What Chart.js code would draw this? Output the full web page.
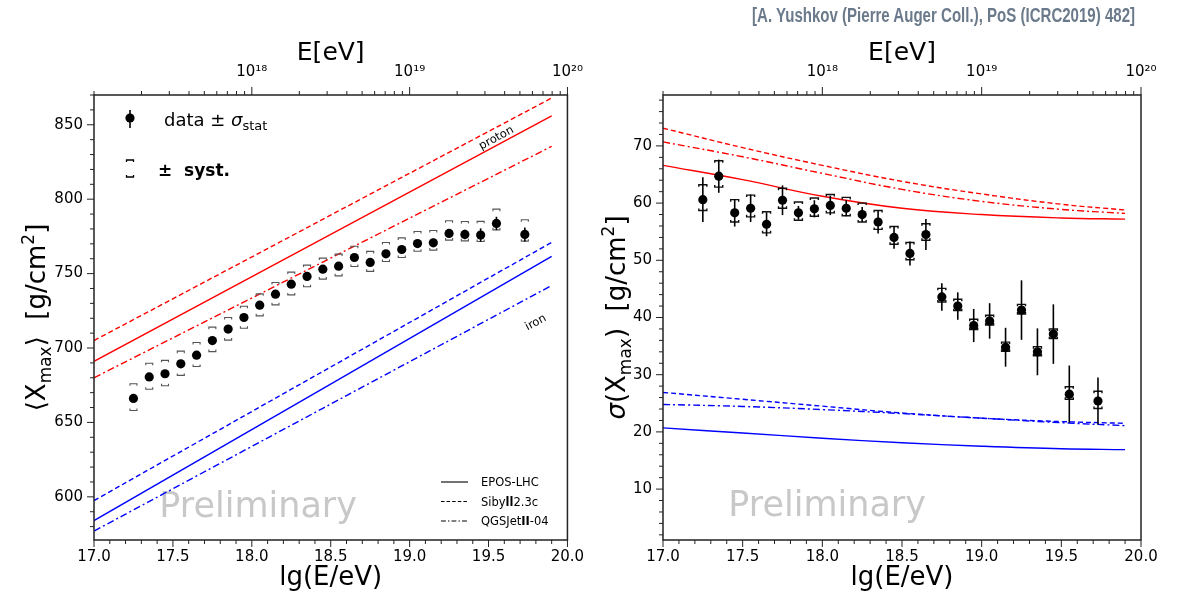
<!DOCTYPE html>
<html>
<head>
<meta charset="utf-8">
<script src="https://cdn.jsdelivr.net/npm/chart.js@4.4.1/dist/chart.umd.min.js"></script>
<style>
  body { margin: 0; background: #fff; width: 1178px; height: 599px; position: relative; overflow: hidden; }
  #leftChart { position: absolute; left: 0; top: 0; }
  #rightChart { position: absolute; left: 589px; top: 0; }
  #ref { position: absolute; right: 43px; top: 4px; font: bold 20px 'Liberation Sans', sans-serif; color: #6b7a8b; white-space: nowrap; transform-origin: right top; }
</style>
</head>
<body>
<canvas id="leftChart" width="589" height="599"></canvas>
<canvas id="rightChart" width="589" height="599"></canvas>
<div id="ref">[A. Yushkov (Pierre Auger Coll.), PoS (ICRC2019) 482]</div>
<script>
const FONT = "'DejaVu Sans', sans-serif";
Chart.defaults.font.family = FONT;
Chart.defaults.color = '#000';

// squeeze the citation line to the narrow look of the original
const refEl = document.getElementById('ref');
refEl.style.transform = 'scaleX(' + (383 / refEl.offsetWidth) + ')';

// energy bins of the measured points, lg(E/eV)
const lgE = [17.25, 17.35, 17.45, 17.55, 17.65, 17.75, 17.85, 17.95, 18.05, 18.15, 18.25, 18.35,
             18.45, 18.55, 18.65, 18.75, 18.85, 18.95, 19.05, 19.15, 19.25, 19.35, 19.45, 19.55, 19.73];

// <Xmax> data, g/cm2
const xmaxMean = [666.1, 680.6, 682.7, 689.4, 695.2, 705.0, 712.7, 720.5, 728.8, 736.2, 742.9, 748.1,
                  753.0, 755.0, 760.8, 757.5, 763.3, 766.2, 770.2, 770.7, 777.0, 776.3, 775.9, 783.7, 776.3];
const xmaxStat = [1.2, 1.2, 1.2, 1.2, 1.2, 1.3, 1.3, 1.3, 1.3, 1.4, 1.5, 1.6,
                  1.7, 1.8, 1.9, 2.0, 2.1, 2.3, 2.5, 2.8, 3.0, 3.2, 4.5, 4.5, 4.7];
const xmaxSysUp = [9.9, 9.2, 9.0, 8.5, 8.5, 9.0, 7.8, 7.6, 7.6, 7.8, 8.1, 7.6,
                   7.4, 8.1, 7.6, 7.4, 7.6, 7.8, 8.1, 8.3, 8.5, 8.7, 9.2, 9.6, 9.9];
const xmaxSysLow = [8.1, 8.3, 8.1, 7.8, 7.6, 7.4, 7.4, 7.2, 7.2, 7.2, 7.2, 6.9,
                    6.7, 6.5, 6.0, 6.0, 5.2, 5.4, 5.2, 4.9, 4.5, 4.3, 4.3, 4.3, 4.5];

// sigma(Xmax) data, g/cm2
const sigmaVals = [60.6, 64.7, 58.3, 59.1, 56.3, 60.5, 58.3, 59.0, 59.6, 59.1, 58.0, 56.7,
                   54.0, 51.2, 54.5, 43.6, 42.0, 38.6, 39.4, 34.8, 41.3, 34.0, 37.1, 26.6, 25.4];
const sigmaStat = [3.9, 2.9, 2.4, 2.4, 2.1, 2.6, 1.2, 1.5, 1.7, 1.4, 1.3, 2.0,
                   2.0, 2.1, 2.7, 2.4, 2.4, 2.9, 3.1, 3.4, 5.2, 4.1, 5.2, 5.0, 4.1];
const sigmaSysUp = [2.6, 2.7, 2.3, 2.3, 2.2, 2.1, 1.9, 1.9, 1.9, 1.9, 2.0, 2.0,
                    1.9, 1.9, 1.9, 1.5, 1.2, 1.1, 1.0, 0.9, 1.0, 0.9, 0.9, 1.3, 1.7];
const sigmaSysLow = [1.9, 1.9, 1.6, 1.5, 1.5, 1.4, 1.3, 1.3, 1.3, 1.3, 1.3, 1.3,
                     1.2, 1.1, 1.0, 0.9, 0.8, 0.7, 0.7, 0.7, 0.7, 0.7, 0.8, 0.9, 1.3];

// model predictions for <Xmax>
const modelLgE = [17.0, 19.9];
const xmaxProtonEpos = [691, 856];
const xmaxProtonSibyll = [705, 868];
const xmaxProtonQgs = [680, 835.5];
const xmaxIronEpos = [584, 761.5];
const xmaxIronSibyll = [597.5, 771];
const xmaxIronQgs = [577, 742];

// model predictions for sigma(Xmax)
const sigmaModelLgE = [17.0, 17.5, 18.0, 18.5, 19.0, 19.5, 19.9];
const sigmaProtonEpos = [66.6, 64.1, 61.2, 59.1, 58.0, 57.4, 57.2];
const sigmaProtonSibyll = [73.1, 69.7, 66.6, 63.8, 61.6, 59.8, 58.8];
const sigmaProtonQgs = [70.7, 68.1, 65.2, 62.4, 60.3, 58.9, 58.2];
const sigmaIronEpos = [20.7, 19.8, 18.9, 18.1, 17.5, 17.05, 16.9];
const sigmaIronSibyll = [26.9, 25.7, 24.5, 23.3, 22.4, 21.8, 21.5];
const sigmaIronQgs = [24.8, 24.45, 23.9, 23.2, 22.4, 21.6, 21.1];

// top axis labels (energy in eV)
const topMajor = [18, 19, 20];
const topLabels = ['10\u00b9\u2078', '10\u00b9\u2079', '10\u00b2\u2070'];

const RED = '#ff0000';
const BLUE = '#0000ff';
const DASH = [5, 3];
const DASHDOT = [7, 3, 2, 3];

function pts(xs, ys) {
    return xs.map((x, i) => ({ x: x, y: ys[i] }));
}

function modelLine(xs, ys, color, dash) {
    return {
        data: pts(xs, ys), showLine: true, pointRadius: 0, borderColor: color,
        borderWidth: 1.4, borderDash: dash, fill: false, tension: 0.4
    };
}

function line(ctx, x1, y1, x2, y2) {
    ctx.beginPath();
    ctx.moveTo(x1, y1);
    ctx.lineTo(x2, y2);
    ctx.stroke();
}

// draw text made of several pieces (sub/superscripts, mixed fonts)
function drawRich(ctx, x, y, parts, center) {
    let total = 0;
    parts.forEach(p => { ctx.font = p.font; total += ctx.measureText(p.text).width; });
    let cx = center ? x - total / 2 : x;
    ctx.textBaseline = 'alphabetic';
    ctx.textAlign = 'left';
    parts.forEach(p => {
        ctx.font = p.font;
        ctx.fillText(p.text, cx, y + (p.dy || 0));
        cx += ctx.measureText(p.text).width;
    });
}

function drawBracket(ctx, px, yt, yb, w) {
    ctx.beginPath();
    ctx.moveTo(px - w, yt + 2); ctx.lineTo(px - w, yt); ctx.lineTo(px + w, yt); ctx.lineTo(px + w, yt + 2);
    ctx.moveTo(px - w, yb - 2); ctx.lineTo(px - w, yb); ctx.lineTo(px + w, yb); ctx.lineTo(px + w, yb - 2);
    ctx.stroke();
}

function makeDecor(cfg) {
    return {
        id: 'decor',
        beforeDatasetsDraw(chart) {
            const ctx = chart.ctx, xs = chart.scales.x, ys = chart.scales.y;
            // watermark
            ctx.save();
            ctx.fillStyle = '#c8c8c8';
            ctx.font = '35px ' + FONT;
            ctx.textAlign = 'center';
            ctx.textBaseline = 'middle';
            ctx.fillText('Preliminary', xs.getPixelForValue(cfg.wm[0]), ys.getPixelForValue(cfg.wm[1]));
            ctx.restore();
        },
        afterDatasetsDraw(chart) {
            const ctx = chart.ctx, xs = chart.scales.x, ys = chart.scales.y;
            ctx.save();
            for (let i = 0; i < lgE.length; i++) {
                const px = xs.getPixelForValue(lgE[i]);
                const v = cfg.vals[i];
                ctx.strokeStyle = cfg.sysColor;
                ctx.lineWidth = cfg.sysWidth;
                drawBracket(ctx, px, ys.getPixelForValue(v + cfg.sysUp[i]), ys.getPixelForValue(v - cfg.sysLow[i]), cfg.bw);
                ctx.strokeStyle = '#000';
                ctx.lineWidth = 1.6;
                line(ctx, px, ys.getPixelForValue(v - cfg.stat[i]), px, ys.getPixelForValue(v + cfg.stat[i]));
                ctx.fillStyle = '#000';
                ctx.beginPath();
                ctx.arc(px, ys.getPixelForValue(v), 4.6, 0, Math.PI * 2);
                ctx.fill();
            }
            ctx.restore();
        },
        afterDraw(chart) {
            const ctx = chart.ctx, a = chart.chartArea;
            ctx.save();
            // frame
            ctx.strokeStyle = '#222';
            ctx.lineWidth = 1.5;
            ctx.strokeRect(a.left, a.top, a.right - a.left, a.bottom - a.top);
            // ticks
            ctx.lineWidth = 1;
            const xb = chart.scales.x, xt = chart.scales.xTop, yl = chart.scales.y;
            xb.ticks.forEach(t => {
                const p = xb.getPixelForValue(t.value);
                line(ctx, p, a.bottom, p, a.bottom + (t.label ? 7 : 4));
            });
            xt.ticks.forEach(t => {
                const p = xt.getPixelForValue(t.value);
                line(ctx, p, a.top, p, a.top - (t.label ? 8 : 4));
            });
            yl.ticks.forEach(t => {
                const p = yl.getPixelForValue(t.value);
                line(ctx, a.left, p, a.left - (t.label ? 7 : 4), p);
            });
            // y-axis title
            ctx.fillStyle = '#000';
            ctx.translate(cfg.titleX, (a.top + a.bottom) / 2);
            ctx.rotate(-Math.PI / 2);
            drawRich(ctx, 0, 9, cfg.title, true);
            ctx.restore();
            if (cfg.extra) cfg.extra(chart);
        }
    };
}

function baseScales(yMin, yMax, yStep, yMajor, yWidth) {
    return {
        x: {
            type: 'linear', position: 'bottom', min: 17, max: 20,
            afterBuildTicks: s => { const t = []; for (let i = 0; i <= 30; i++) t.push({ value: 17 + i / 10 }); s.ticks = t; },
            afterFit: s => { s.height = 59; },
            ticks: {
                autoSkip: false, maxRotation: 0, padding: 1, font: { size: 15 }, color: '#000',
                callback: v => (Math.abs(v * 2 - Math.round(v * 2)) < 1e-6 ? v.toFixed(1) : '')
            },
            grid: { drawOnChartArea: false, tickLength: 7, tickColor: 'rgba(0,0,0,0)' },
            border: { display: false },
            title: { display: true, text: 'lg(E/eV)', font: { size: 26 }, color: '#000', padding: { top: 0, bottom: 5 } }
        },
        xTop: {
            type: 'linear', position: 'top', axis: 'x', min: 17, max: 20,
            afterBuildTicks: s => {
                const t = [];
                for (let n = 17; n < 20; n++) for (let k = 1; k < 10; k++) t.push({ value: n + Math.log10(k) });
                t.push({ value: 20 });
                s.ticks = t;
            },
            afterFit: s => { s.height = 95; },
            ticks: {
                autoSkip: false, maxRotation: 0, padding: 6, font: { size: 15 }, color: '#000',
                callback: v => { const i = topMajor.findIndex(m => Math.abs(m - v) < 1e-6); return i >= 0 ? topLabels[i] : ''; }
            },
            grid: { drawOnChartArea: false, tickLength: 8, tickColor: 'rgba(0,0,0,0)' },
            border: { display: false },
            title: { display: true, text: 'E[eV]', font: { size: 25 }, color: '#000', padding: { top: 38, bottom: 0 } }
        },
        y: {
            type: 'linear', min: yMin, max: yMax,
            afterBuildTicks: s => {
                const t = [];
                for (let v = Math.ceil(yMin / yStep) * yStep; v <= yMax; v += yStep) t.push({ value: v });
                s.ticks = t;
            },
            afterFit: s => { s.width = yWidth; },
            ticks: {
                autoSkip: false, padding: 4, font: { size: 15 }, color: '#000',
                callback: v => (v % yMajor === 0 ? String(v) : '')
            },
            grid: { drawOnChartArea: false, tickLength: 7, tickColor: 'rgba(0,0,0,0)' },
            border: { display: false }
        }
    };
}

const sub = '13px ' + FONT;
const big = '26px ' + FONT;

// left: <Xmax>
new Chart(document.getElementById('leftChart'), {
    type: 'scatter',
    data: {
        datasets: [
            modelLine(modelLgE, xmaxProtonEpos, RED, []),
            modelLine(modelLgE, xmaxProtonSibyll, RED, DASH),
            modelLine(modelLgE, xmaxProtonQgs, RED, DASHDOT),
            modelLine(modelLgE, xmaxIronEpos, BLUE, []),
            modelLine(modelLgE, xmaxIronSibyll, BLUE, DASH),
            modelLine(modelLgE, xmaxIronQgs, BLUE, DASHDOT)
        ]
    },
    options: {
        responsive: false, animation: false, devicePixelRatio: 1,
        layout: { padding: { left: 0, right: 20, top: 0, bottom: 0 } },
        plugins: { legend: { display: false }, tooltip: { enabled: false } },
        scales: baseScales(571, 870, 10, 50, 94)
    },
    plugins: [makeDecor({
        vals: xmaxMean, stat: xmaxStat, sysUp: xmaxSysUp, sysLow: xmaxSysLow,
        sysColor: '#555', sysWidth: 1.1, bw: 3.5, wm: [18.04, 592.8], titleX: 36,
        title: [
            { text: '\u27e8X', font: big },
            { text: 'max', font: '17px ' + FONT, dy: 6 },
            { text: '\u27e9  [g/cm', font: big },
            { text: '2', font: '17px ' + FONT, dy: -11 },
            { text: ']', font: big }
        ],
        extra(chart) {
            const ctx = chart.ctx, a = chart.chartArea, xs = chart.scales.x, ys = chart.scales.y;
            ctx.save();
            // data legend
            const mx = a.left + 36, my = a.top + 23;
            ctx.strokeStyle = '#000'; ctx.lineWidth = 1.6;
            line(ctx, mx, my - 8, mx, my + 10);
            ctx.fillStyle = '#000';
            ctx.beginPath(); ctx.arc(mx, my, 4.6, 0, Math.PI * 2); ctx.fill();
            drawRich(ctx, a.left + 70, a.top + 31, [
                { text: 'data \u00b1 ', font: '18px ' + FONT },
                { text: '\u03c3', font: 'italic 18px ' + FONT },
                { text: 'stat', font: sub, dy: 4 }
            ], false);
            ctx.strokeStyle = '#000'; ctx.lineWidth = 1.3;
            drawBracket(ctx, mx, a.top + 65, a.top + 82, 3.5);
            drawRich(ctx, a.left + 64, a.top + 81, [{ text: '\u00b1  syst.', font: 'bold 17px ' + FONT }], false);
            // model legend
            const lx1 = a.left + 347, lx2 = a.left + 374;
            const rows = [[[], 'EPOS-LHC'], [DASH, 'Sibyll2.3c'], [DASHDOT, 'QGSJetII-04']];
            rows.forEach((r, i) => {
                const y = a.top + 387 + i * 19.5;
                ctx.setLineDash(r[0].map(d => d * 0.7));
                ctx.lineWidth = 1.1;
                line(ctx, lx1, y, lx2, y);
                ctx.setLineDash([]);
                const f = '11.5px ' + FONT, fb = 'bold 11.5px ' + FONT;
                let parts;
                if (i === 0) parts = [{ text: 'EPOS-LHC', font: f }];
                else if (i === 1) parts = [{ text: 'Siby', font: f }, { text: 'll', font: fb }, { text: '2.3c', font: f }];
                else parts = [{ text: 'QGSJet', font: f }, { text: 'II', font: fb }, { text: '-04', font: f }];
                drawRich(ctx, a.left + 387, y + 4, parts, false);
            });
            // proton / iron labels along the lines
            const labels = [['proton', xmaxProtonEpos, 19.55, 841], ['iron', xmaxIronQgs, 19.8, 717]];
            labels.forEach(l => {
                const ang = Math.atan2(ys.getPixelForValue(l[1][1]) - ys.getPixelForValue(l[1][0]),
                                       xs.getPixelForValue(modelLgE[1]) - xs.getPixelForValue(modelLgE[0]));
                ctx.save();
                ctx.translate(xs.getPixelForValue(l[2]), ys.getPixelForValue(l[3]));
                ctx.rotate(ang);
                ctx.font = '11.5px ' + FONT;
                ctx.textAlign = 'center'; ctx.textBaseline = 'middle';
                ctx.fillText(l[0], 0, 0);
                ctx.restore();
            });
            ctx.restore();
        }
    })]
});

// right: sigma(Xmax)
new Chart(document.getElementById('rightChart'), {
    type: 'scatter',
    data: {
        datasets: [
            modelLine(sigmaModelLgE, sigmaProtonEpos, RED, []),
            modelLine(sigmaModelLgE, sigmaProtonSibyll, RED, DASH),
            modelLine(sigmaModelLgE, sigmaProtonQgs, RED, DASHDOT),
            modelLine(sigmaModelLgE, sigmaIronEpos, BLUE, []),
            modelLine(sigmaModelLgE, sigmaIronSibyll, BLUE, DASH),
            modelLine(sigmaModelLgE, sigmaIronQgs, BLUE, DASHDOT)
        ]
    },
    options: {
        responsive: false, animation: false, devicePixelRatio: 1,
        layout: { padding: { left: 0, right: 37, top: 0, bottom: 0 } },
        plugins: { legend: { display: false }, tooltip: { enabled: false } },
        scales: baseScales(1.1, 78.9, 2, 10, 74)
    },
    plugins: [makeDecor({
        vals: sigmaVals, stat: sigmaStat, sysUp: sigmaSysUp, sysLow: sigmaSysLow,
        sysColor: '#111', sysWidth: 1.4, bw: 4, wm: [18.03, 6.9], titleX: 27,
        title: [
            { text: '\u03c3', font: 'italic ' + big },
            { text: '(X', font: big },
            { text: 'max', font: '17px ' + FONT, dy: 6 },
            { text: ')  [g/cm', font: big },
            { text: '2', font: '17px ' + FONT, dy: -11 },
            { text: ']', font: big }
        ]
    })]
});
</script>
</body>
</html>
